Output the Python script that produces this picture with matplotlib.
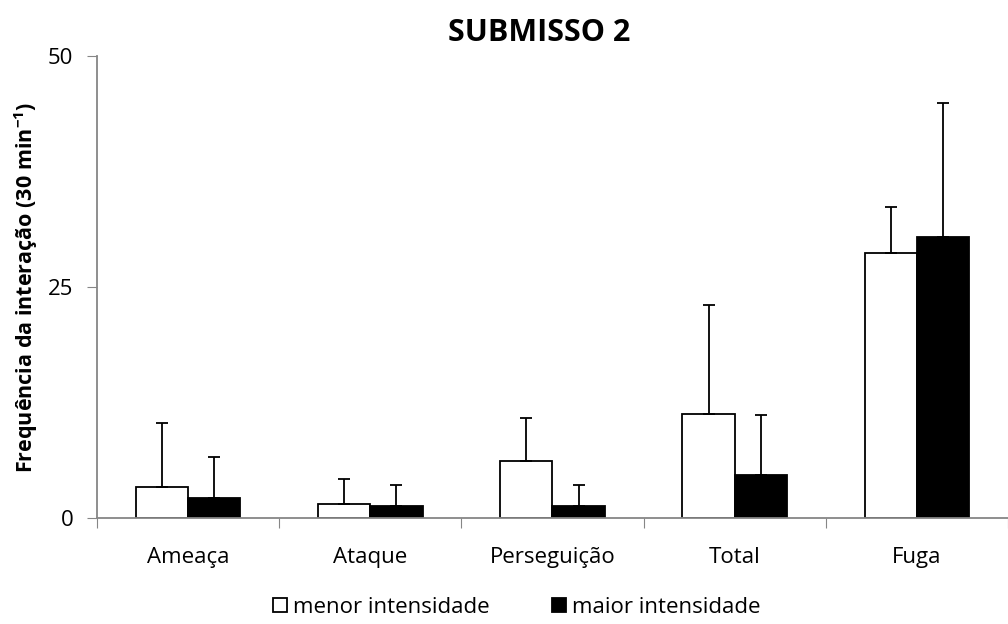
import matplotlib.pyplot as plt
import numpy as np

categories = ['Ameaça', 'Ataque', 'Perseguição', 'Total', 'Fuga']
menor = [3.4, 1.5, 6.2, 11.2, 28.7]
menor_err = [6.9, 2.7, 4.6, 11.9, 5.0]
maior = [2.2, 1.3, 1.3, 4.7, 30.4]
maior_err = [4.4, 2.3, 2.3, 6.4, 14.5]

plt.rcParams['font.family'] = ['Open Sans', 'DejaVu Sans']

fig = plt.figure(figsize=(10.08, 6.24), dpi=100)
ax = fig.add_axes([0.0962, 0.170, 0.9038, 0.740])

x = np.arange(len(categories))
w = 0.287
err_kw = dict(ecolor='black', elinewidth=1.3, capsize=4.5, capthick=1.3)
ax.bar(x - w / 2, menor, w, color='white', edgecolor='black', linewidth=1.3,
       yerr=[np.zeros(len(menor)), menor_err], error_kw=err_kw, label='menor intensidade')
ax.bar(x + w / 2, maior, w, color='black', edgecolor='black', linewidth=1.3,
       yerr=[np.zeros(len(maior)), maior_err], error_kw=err_kw, label='maior intensidade')

ax.set_xlim(-0.5, 4.5)
ax.set_ylim(0, 50)
ax.set_yticks([0, 25, 50])
ax.tick_params(axis='y', labelsize=16, length=7, color='#868686', direction='out', pad=10)

# category boundaries carry the ticks, centres carry the labels
ax.set_xticks(np.arange(-0.5, 5, 1))
ax.set_xticklabels([])
ax.set_xticks(x, minor=True)
ax.set_xticklabels(categories, minor=True, fontsize=16)
ax.tick_params(axis='x', which='major', length=7, color='#868686', direction='out')
ax.tick_params(axis='x', which='minor', length=0, pad=21)

for side in ['top', 'right']:
    ax.spines[side].set_visible(False)
for side in ['left', 'bottom']:
    ax.spines[side].set_color('#868686')
    ax.spines[side].set_linewidth(1.3)

ax.set_ylabel('Frequência da interação (30 min$^{\\mathregular{-1}}$)', fontsize=15.5,
              fontweight='bold', labelpad=6)

fig.text(0.535, 0.947, 'SUBMISSO 2', ha='center', va='center', fontsize=22, fontweight='bold')

fig.legend(loc='center', bbox_to_anchor=(0.513, 0.027), ncol=2, frameon=False, fontsize=16,
           handlelength=0.6, handleheight=0.6, handletextpad=0.3, columnspacing=2.8)

fig.savefig('out.png', dpi=100)
